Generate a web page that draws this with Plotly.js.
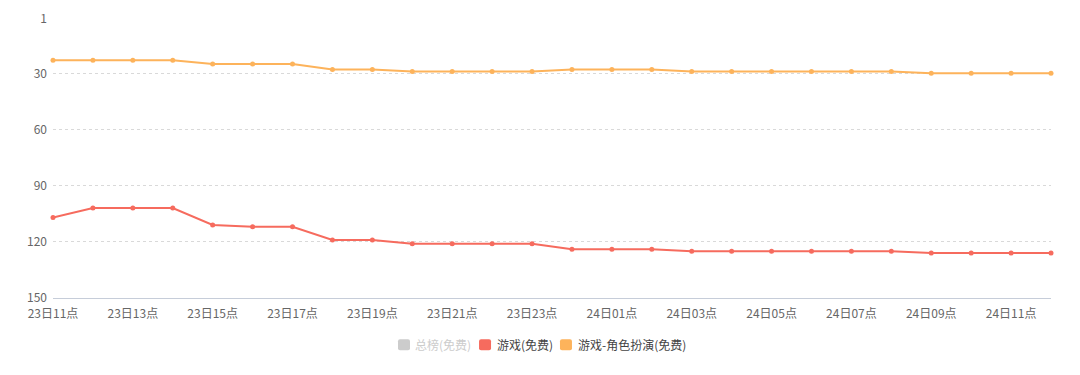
<!DOCTYPE html>
<html>
<head>
<meta charset="utf-8">
<script src="https://cdn.plot.ly/plotly-3.0.1.min.js"></script>
<style>html,body{margin:0;padding:0;background:#fff;}#chart{width:1080px;height:375px;}</style>
</head>
<body>
<div id="chart"></div>
<script>
const hours = ["23日11点","23日12点","23日13点","23日14点","23日15点","23日16点","23日17点","23日18点","23日19点","23日20点","23日21点","23日22点","23日23点","24日00点","24日01点","24日02点","24日03点","24日04点","24日05点","24日06点","24日07点","24日08点","24日09点","24日10点","24日11点","24日12点"];
const gameFree = [107,102,102,102,111,112,112,119,119,121,121,121,121,124,124,124,125,125,125,125,125,125,126,126,126,126];
const rpgFree = [23,23,23,23,25,25,25,28,28,29,29,29,29,28,28,28,29,29,29,29,29,29,30,30,30,30];
const seriesNames = ["总榜(免费)","游戏(免费)","游戏-角色扮演(免费)"];
const seriesColors = ["#cccccc","#f66b5e","#fdb35b"];
const legendTextColors = ["#cccccc","#444444","#444444"];
const yTicks = [1,30,60,90,120,150];
const xTickLabels = hours.filter((h,i)=>i%2===0);

const lineTrace = (name, y, c) => ({
  name: name, x: hours, y: y, type: 'scatter', mode: 'lines+markers',
  line: {color: c, width: 2}, marker: {color: c, size: 5},
  showlegend: false, cliponaxis: false, hoverinfo: 'x+y'
});

const data = [
  lineTrace(seriesNames[1], gameFree, seriesColors[1]),
  lineTrace(seriesNames[2], rpgFree, seriesColors[2])
];

// custom legend (icons + labels), placed in paper fractions
const iconX = [0.3517, 0.4329, 0.5140];
const textX = [0.3607, 0.4429, 0.5241];
const legendY = -0.168;
const iconPath = "M -4,-5.5 L 4,-5.5 Q 6,-5.5 6,-3.5 L 6,3.5 Q 6,5.5 4,5.5 L -4,5.5 Q -6,5.5 -6,3.5 L -6,-3.5 Q -6,-5.5 -4,-5.5 Z";
const shapes = seriesNames.map((n,i) => ({
  type: 'path', xref: 'paper', yref: 'paper', xsizemode: 'pixel', ysizemode: 'pixel',
  xanchor: iconX[i], yanchor: legendY, path: iconPath,
  fillcolor: seriesColors[i], line: {width: 0}
}));
const annotations = seriesNames.map((n,i) => ({
  xref: 'paper', yref: 'paper', x: textX[i], y: legendY, xanchor: 'left', yanchor: 'middle',
  text: n, showarrow: false, font: {size: 12, color: legendTextColors[i]}
}));

const layout = {
  width: 1080, height: 375,
  margin: {l: 53, r: 29, t: 19, b: 77},
  paper_bgcolor: '#fff', plot_bgcolor: '#fff',
  font: {family: '"Noto Sans CJK SC", "Noto Sans", sans-serif', size: 12, color: '#666'},
  showlegend: false,
  xaxis: {
    type: 'category', range: [0, hours.length - 1],
    tickvals: xTickLabels, ticktext: xTickLabels,
    showgrid: false, showline: true, linecolor: '#c6cdd9', linewidth: 1,
    ticks: '', tickfont: {size: 12, color: '#666'}, zeroline: false,
    ticklabelstandoff: 5
  },
  yaxis: {
    range: [150, 1], tickvals: yTicks, ticktext: yTicks.map(String),
    showgrid: true, gridcolor: '#d9d9d9', griddash: 'dot', gridwidth: 1,
    showline: false, zeroline: false, ticks: '', ticklabelstandoff: 5,
    tickfont: {size: 12, color: '#666'}
  },
  shapes: shapes,
  annotations: annotations
};

Plotly.newPlot('chart', data, layout, {displayModeBar: false, staticPlot: true});
</script>
</body>
</html>
